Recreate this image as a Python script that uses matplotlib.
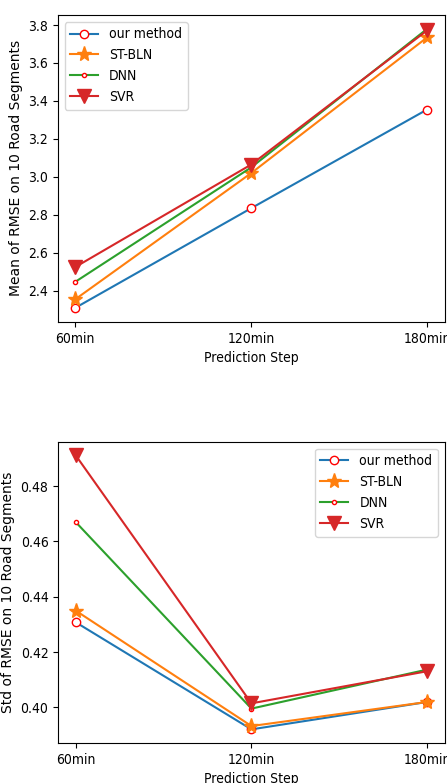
import matplotlib.pyplot as plt

plt.rcParams['font.family'] = ['DejaVu Sans']
plt.rcParams['font.stretch'] = 'condensed'

steps = ['60min', '120min', '180min']
methods = ['our method', 'ST-BLN', 'DNN', 'SVR']

mean_ours = [2.31, 2.835, 3.355]
mean_stbln = [2.355, 3.02, 3.735]
mean_dnn = [2.447, 3.05, 3.78]
mean_svr = [2.525, 3.065, 3.772]

std_ours = [0.4308, 0.3921, 0.402]
std_stbln = [0.435, 0.3933, 0.402]
std_dnn = [0.467, 0.3996, 0.4137]
std_svr = [0.4911, 0.4015, 0.4131]

styles = [
    dict(color='tab:blue', marker='o', ms=6, mfc='white', mec='red'),
    dict(color='tab:orange', marker='*', ms=11),
    dict(color='tab:green', marker='o', ms=3, mfc='white', mec='red'),
    dict(color='tab:red', marker='v', ms=10),
]

fig = plt.figure(figsize=(4.47, 7.83), dpi=100)
ax1 = fig.add_axes([0.129, 0.589, 0.866, 0.392])
ax2 = fig.add_axes([0.130, 0.051, 0.865, 0.385])

x = range(len(steps))
for vals, name, st in zip([mean_ours, mean_stbln, mean_dnn, mean_svr], methods, styles):
    ax1.plot(x, vals, label=name, **st)
for vals, name, st in zip([std_ours, std_stbln, std_dnn, std_svr], methods, styles):
    ax2.plot(x, vals, label=name, **st)

ax1.set_xticks(list(x))
ax1.set_xticklabels(steps)
ax1.set_xlabel('Prediction Step')
ax1.set_ylabel('Mean of RMSE on 10 Road Segments', fontstretch='normal')
ax1.legend(loc='upper left')

ax2.set_xticks(list(x))
ax2.set_xticklabels(steps)
ax2.set_xlabel('Prediction Step')
ax2.set_ylabel('Std of RMSE on 10 Road Segments', fontstretch='normal')
ax2.legend(loc='upper right')

plt.savefig('out.png')
